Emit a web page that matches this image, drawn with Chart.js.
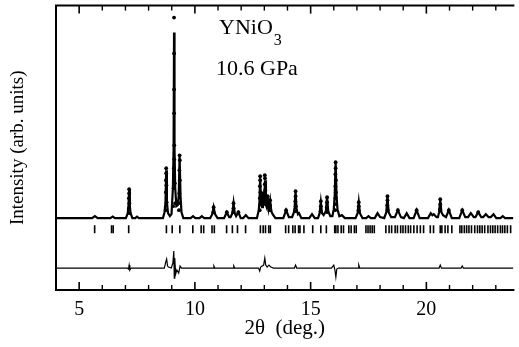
<!DOCTYPE html>
<html>
<head>
<meta charset="utf-8">
<script src="https://cdn.jsdelivr.net/npm/chart.js@4/dist/chart.umd.min.js"></script>
<style>
  html, body { margin: 0; padding: 0; background: #fff; }
  #wrap { width: 519px; height: 347px; }
</style>
</head>
<body>
<div id="wrap"><canvas id="xrd"></canvas></div>
<script>
/* YNiO3 at 10.6 GPa — powder pattern, fit, Bragg marks and difference curve. */

const xRange = [4, 23.76];
const yRange = [-72, 213];
const xLabels = [5, 10, 15, 20];

// calculated profile [2theta, intensity]
const calcProfile = [
  [4, 0], [5.56, 0], [5.68, 2], [5.80, 0], [6.35, 0], [6.45, 1.5], [6.55, 0],
  [7.02, 0], [7.10, 5], [7.13, 12], [7.16, 29], [7.19, 12], [7.22, 5], [7.30, 0], [7.42, 0], [7.50, 1.5], [7.58, 0],
  [8.62, 0], [8.69, 6], [8.73, 16], [8.76, 48], [8.79, 16], [8.84, 5], [8.92, 2], [8.99, 4],
  [9.05, 30], [9.08, 70], [9.10, 186], [9.12, 70], [9.15, 30], [9.20, 12], [9.26, 13], [9.30, 22], [9.34, 62], [9.38, 22], [9.42, 6], [9.50, 0],
  [9.82, 0], [9.92, 2], [10.02, 0], [10.2, 0], [10.3, 2], [10.4, 0],
  [10.66, 0], [10.75, 4], [10.81, 11], [10.87, 4], [10.98, 0],
  [11.26, 0], [11.38, 6], [11.48, 1], [11.54, 1], [11.62, 5], [11.67, 15], [11.72, 5], [11.78, 2],
  [11.88, 6], [11.98, 0], [12.08, 0], [12.20, 3], [12.32, 0],
  [12.68, 0], [12.76, 8], [12.79, 16], [12.82, 40], [12.86, 14], [12.90, 11], [12.94, 24], [12.98, 13],
  [13.03, 38], [13.07, 13], [13.10, 11], [13.14, 22], [13.19, 10], [13.25, 18], [13.30, 7], [13.36, 4], [13.48, 0],
  [13.82, 0], [13.94, 8], [14.06, 1], [14.20, 1], [14.28, 6], [14.31, 11], [14.35, 26], [14.39, 10], [14.45, 4], [14.50, 5], [14.60, 0],
  [14.94, 0], [15.06, 4], [15.18, 0], [15.32, 0], [15.39, 5], [15.44, 16], [15.49, 5], [15.56, 3],
  [15.66, 7], [15.71, 21], [15.76, 7], [15.85, 2], [15.94, 2], [16.00, 9], [16.04, 22], [16.08, 56], [16.12, 22], [16.16, 9], [16.24, 2],
  [16.35, 3], [16.48, 0], [16.94, 0], [17.03, 5], [17.08, 16], [17.13, 5], [17.24, 0],
  [17.40, 0], [17.50, 2], [17.60, 0], [17.77, 0], [17.89, 5], [18.0, 1],
  [18.18, 0], [18.27, 6], [18.32, 21], [18.37, 6], [18.48, 1], [18.64, 1], [18.77, 8], [18.90, 1],
  [19.03, 0], [19.15, 5], [19.27, 0], [19.45, 0], [19.58, 8], [19.71, 0],
  [20.07, 0], [20.19, 5], [20.26, 3], [20.32, 4], [20.44, 1],
  [20.50, 1], [20.55, 6], [20.60, 18], [20.65, 6], [20.72, 3], [20.85, 1], [20.97, 8], [21.10, 0],
  [21.42, 0], [21.55, 8], [21.68, 1], [21.80, 1], [21.92, 5], [22.05, 1],
  [22.12, 1], [22.24, 6], [22.37, 1], [22.45, 1], [22.57, 4], [22.69, 1],
  [22.78, 1], [22.90, 4], [23.02, 0], [23.20, 0], [23.30, 2], [23.40, 0], [23.76, 0]
];

// observed points (dots) on the peaks
const obsPoints = [
  [7.16, 29], [7.16, 25], [7.15, 20], [7.17, 15], [7.15, 10], [7.18, 5],
  [8.76, 50], [8.76, 45], [8.75, 38], [8.77, 33], [8.75, 26], [8.78, 16], [8.74, 8],
  [9.10, 201], [9.10, 165], [9.10, 129], [9.10, 105], [9.11, 73], [9.11, 59], [9.09, 50], [9.08, 30], [9.13, 35], [9.06, 12], [9.15, 15],
  [9.34, 63], [9.35, 58], [9.33, 48], [9.35, 38], [9.33, 25], [9.36, 15], [9.31, 8],
  [10.81, 11], [10.80, 6], [11.67, 15], [11.67, 10], [11.66, 6], [11.38, 6], [11.88, 6],
  [12.82, 42], [12.82, 38], [12.81, 32], [12.83, 26], [12.81, 20], [12.83, 14], [12.80, 8],
  [12.95, 25], [12.94, 20], [12.96, 14],
  [13.02, 43], [13.03, 40], [13.02, 34], [13.04, 28], [13.02, 22], [13.05, 15],
  [13.14, 22], [13.13, 17], [13.15, 12], [13.25, 18], [13.24, 13], [13.26, 8],
  [13.94, 8], [14.35, 27], [14.35, 22], [14.34, 17], [14.36, 12], [14.34, 7],
  [15.44, 17], [15.44, 12], [15.43, 7], [15.71, 21], [15.71, 16], [15.70, 11], [15.72, 6],
  [16.08, 56], [16.08, 50], [16.07, 44], [16.09, 38], [16.07, 32], [16.09, 26], [16.07, 20], [16.10, 14], [16.06, 8],
  [17.08, 16], [17.08, 12], [17.07, 8], [18.32, 22], [18.32, 18], [18.31, 13], [18.33, 8],
  [18.77, 8], [19.58, 8], [20.60, 19], [20.60, 14], [20.59, 9], [20.97, 8], [21.55, 8], [22.24, 6]
];

// Bragg reflection positions
const braggPos = [
  5.67, 6.40, 6.47, 7.14, 8.77, 9.02, 9.35, 9.91, 10.27, 10.38, 10.74, 10.84, 11.37, 11.62, 11.84, 12.19,
  12.83, 12.95, 13.05, 13.19, 13.26, 13.92, 14.05, 14.23, 14.33, 14.48, 14.54, 14.71, 15.09, 15.44, 15.68,
  16.04, 16.09, 16.18, 16.32, 16.42, 16.65, 16.75, 16.89, 16.97, 17.39, 17.48, 17.57, 17.66, 17.75,
  18.25, 18.39, 18.50, 18.65, 18.75, 18.89, 18.99, 19.10, 19.22, 19.32, 19.46, 19.60, 19.74, 19.88,
  20.17, 20.31, 20.60, 20.67, 20.81, 20.93, 21.10, 21.45, 21.53, 21.64, 21.74, 21.84, 21.95,
  22.09, 22.21, 22.31, 22.41, 22.52, 22.66, 22.77, 22.87, 22.97, 23.08, 23.20, 23.29, 23.39, 23.50, 23.64
];
const braggLevel = -11;

// difference curve (obs - calc), offset
const diffProfile = [
  [4, -50], [7.08, -50], [7.13, -51], [7.16, -47], [7.19, -52], [7.24, -50],
  [8.68, -50], [8.74, -44], [8.78, -41], [8.82, -48], [8.86, -49], [8.98, -50],
  [9.05, -45], [9.09, -33], [9.11, -60], [9.13, -40], [9.17, -56], [9.22, -52], [9.30, -55], [9.36, -48], [9.42, -50],
  [10.80, -50], [10.82, -48], [10.86, -50], [11.65, -50], [11.68, -48], [11.72, -50],
  [12.75, -50], [12.80, -53], [12.84, -49], [12.97, -47], [13.02, -40], [13.06, -47], [13.12, -49],
  [13.20, -47], [13.28, -49], [13.40, -50], [14.30, -50], [14.35, -47], [14.40, -50],
  [15.90, -50], [16.00, -47], [16.05, -52], [16.09, -59], [16.13, -51], [16.20, -50],
  [17.05, -50], [17.08, -47], [17.12, -50], [20.55, -50], [20.60, -47], [20.65, -50],
  [21.50, -50], [21.55, -48], [21.60, -50], [23.76, -50]
];

// axis tick marks (inward) on the top and bottom edges
const minorTicks = [6, 7, 8, 9, 11, 12, 13, 14, 16, 17, 18, 19, 21, 22, 23];
const majorTicks = [5, 10, 15, 20];

const toXY = arr => arr.map(p => ({ x: p[0], y: p[1] }));
// tick marks as short vertical strokes hanging from the top edge / standing on the bottom edge
const edgeMarks = (xs, half) => xs.flatMap(v => [
  { x: v, y: yRange[1] - half },
  { x: v, y: yRange[0] + half }
]);

Chart.defaults.font.family = '"Liberation Serif", "Times New Roman", serif';
Chart.defaults.color = '#000';

const framePlugin = {
  id: 'frame',
  afterDraw(chart) {
    const ctx = chart.ctx;
    const a = chart.chartArea;
    ctx.save();
    ctx.strokeStyle = '#000';
    ctx.lineWidth = 2;
    ctx.beginPath();
    ctx.moveTo(a.right + 1, a.top);
    ctx.lineTo(a.left, a.top);
    ctx.lineTo(a.left, a.bottom);
    ctx.lineTo(a.right + 1, a.bottom);
    ctx.stroke();
    ctx.fillStyle = '#000';
    ctx.textBaseline = 'alphabetic';
    ctx.textAlign = 'left';
    ctx.font = '22px "Liberation Serif", serif';
    ctx.fillText('YNiO', 219, 34);
    const w = ctx.measureText('YNiO').width;
    ctx.font = '16px "Liberation Serif", serif';
    ctx.fillText('3', 219 + w + 1, 45);
    ctx.font = '22px "Liberation Serif", serif';
    ctx.fillText('10.6 GPa', 216, 75);
    ctx.restore();
  }
};

new Chart(document.getElementById('xrd'), {
  type: 'scatter',
  data: {
    datasets: [
      { label: 'obs', data: toXY(obsPoints), pointRadius: 1.9, pointBackgroundColor: '#000', pointBorderWidth: 0, showLine: false },
      { label: 'calc', data: toXY(calcProfile), showLine: true, borderColor: '#000', borderWidth: 2.2, pointRadius: 0, tension: 0 },
      { label: 'Bragg', data: braggPos.map(v => ({ x: v, y: braggLevel })), showLine: false, pointStyle: 'line', rotation: 90, pointRadius: 4, borderColor: '#000', pointBorderWidth: 1.6 },
      { label: 'diff', data: toXY(diffProfile), showLine: true, borderColor: '#000', borderWidth: 1.2, pointRadius: 0, tension: 0 },
      { label: 'major ticks', data: edgeMarks(majorTicks, 4), showLine: false, pointStyle: 'line', rotation: 90, pointRadius: 4, borderColor: '#000', pointBorderWidth: 1.6, clip: false },
      { label: 'minor ticks', data: edgeMarks(minorTicks, 2.5), showLine: false, pointStyle: 'line', rotation: 90, pointRadius: 2.5, borderColor: '#000', pointBorderWidth: 1.4, clip: false }
    ]
  },
  options: {
    responsive: true,
    maintainAspectRatio: false,
    animation: false,
    events: [],
    layout: { padding: { top: 5, right: 0, left: 0, bottom: 0 } },
    plugins: { legend: { display: false }, tooltip: { enabled: false } },
    scales: {
      x: {
        type: 'linear', min: xRange[0], max: xRange[1],
        grid: { display: false, drawTicks: false },
        border: { display: false },
        afterBuildTicks: s => { s.ticks = xLabels.map(v => ({ value: v })); },
        afterFit: s => { s.height = 57; },
        ticks: { font: { size: 20 }, color: '#000', padding: 8, maxRotation: 0 },
        title: { display: true, text: '2θ  (deg.)', font: { size: 21 }, color: '#000', padding: { top: 0, bottom: 6 } }
      },
      y: {
        type: 'linear', min: yRange[0], max: yRange[1],
        grid: { display: false, drawTicks: false },
        border: { display: false },
        ticks: { display: false },
        afterFit: s => { s.width = 56; },
        title: { display: true, text: 'Intensity (arb. units)', font: { size: 19 }, color: '#000', padding: { top: 7, bottom: 0 } }
      }
    }
  },
  plugins: [framePlugin]
});
</script>
</body>
</html>
